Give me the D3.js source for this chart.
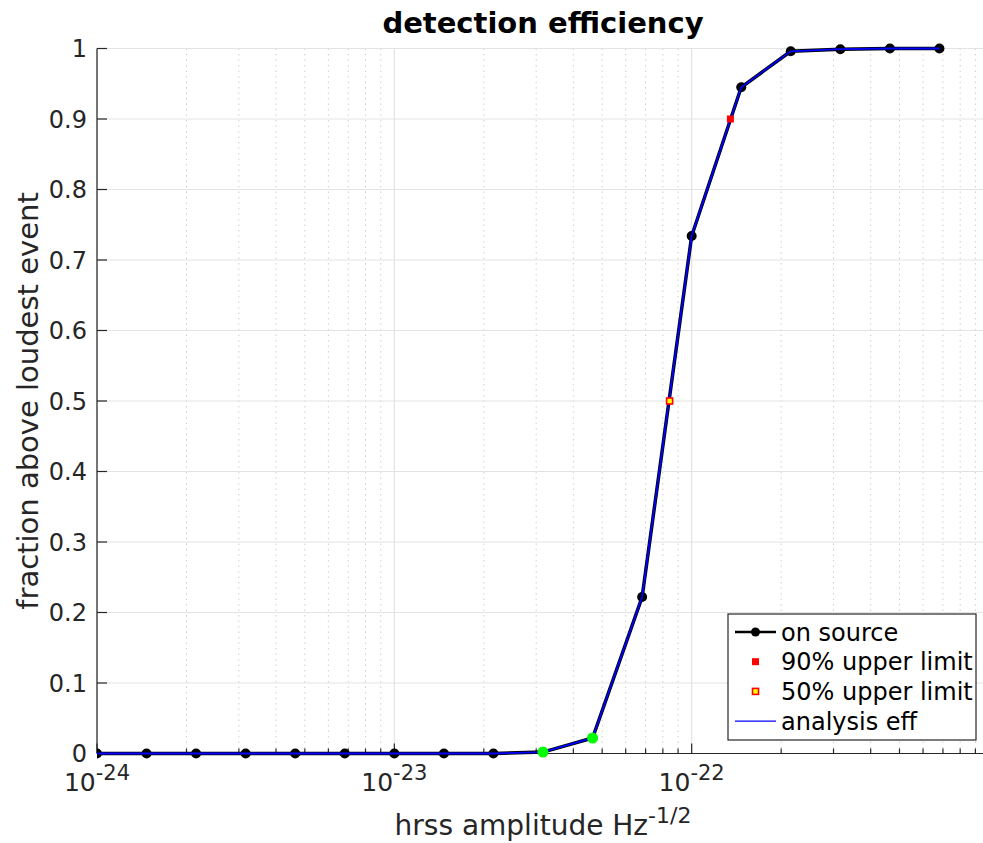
<!DOCTYPE html>
<html>
<head>
<meta charset="utf-8">
<script src="https://cdn.jsdelivr.net/npm/d3@7"></script>
<style>
  html, body { margin: 0; padding: 0; background: #fff; }
  svg { display: block; font-family: "DejaVu Sans", sans-serif; }
</style>
</head>
<body>
<svg id="chart" width="983" height="843"></svg>
<script>
// Injection amplitudes (hrss, Hz^-1/2), spaced 1/6 decade apart
const hrss = [1e-24, 1.468e-24, 2.154e-24, 3.162e-24, 4.642e-24, 6.813e-24,
              1e-23, 1.468e-23, 2.154e-23, 3.162e-23, 4.642e-23, 6.813e-23,
              1e-22, 1.468e-22, 2.154e-22, 3.162e-22, 4.642e-22, 6.813e-22];
// Fraction of injections louder than the loudest on-source event
const efficiency = [0, 0, 0, 0, 0, 0, 0, 0, 0, 0.002, 0.022, 0.222,
                    0.734, 0.945, 0.996, 0.999, 1.0, 1.0];
// Indices of points highlighted in green
const highlighted = [9, 10];
// Upper limits
const upperLimit90 = { x: 1.35e-22, y: 0.9 };
const upperLimit50 = { x: 8.43e-23, y: 0.5 };
const yTicks = [0, 0.1, 0.2, 0.3, 0.4, 0.5, 0.6, 0.7, 0.8, 0.9, 1];
const xDecades = [1e-24, 1e-23, 1e-22];
const legendLabels = ["on source", "90% upper limit", "50% upper limit", "analysis eff"];

const svg = d3.select("#chart");
const mLeft = 97, mRight = 989, mTop = 48.5, mBottom = 753.5;

const x = d3.scaleLog().domain([1e-24, 1e-21]).range([mLeft, mRight]);
const y = d3.scaleLinear().domain([0, 1]).range([mBottom, mTop]);

// minor decades 2..9 x 10^n
const minorTicks = [];
[-24, -23, -22].forEach(e => {
  for (let m = 2; m <= 9; m++) minorTicks.push(m * Math.pow(10, e));
});

svg.append("defs").append("clipPath").attr("id", "plotclip")
  .append("rect").attr("x", mLeft).attr("y", mTop - 8)
  .attr("width", mRight - mLeft).attr("height", mBottom - mTop + 16);

// grid
const grid = svg.append("g");
grid.selectAll(".mgx").data(minorTicks).join("line")
  .attr("x1", d => x(d)).attr("x2", d => x(d))
  .attr("y1", mTop).attr("y2", mBottom)
  .attr("stroke", "#cfcfcf").attr("stroke-width", 1).attr("stroke-dasharray", "1.5,4");
grid.selectAll(".gx").data(xDecades).join("line")
  .attr("x1", d => x(d)).attr("x2", d => x(d))
  .attr("y1", mTop).attr("y2", mBottom)
  .attr("stroke", "#e3e3e3").attr("stroke-width", 1.2);
grid.selectAll(".gy").data(yTicks).join("line")
  .attr("x1", mLeft).attr("x2", mRight)
  .attr("y1", d => y(d)).attr("y2", d => y(d))
  .attr("stroke", "#e3e3e3").attr("stroke-width", 1.2);

// axes
const axisColor = "#262626";
const ax = svg.append("g");
ax.append("line").attr("x1", mLeft).attr("x2", mLeft).attr("y1", mTop).attr("y2", mBottom)
  .attr("stroke", axisColor).attr("stroke-width", 1.2);
ax.append("line").attr("x1", mLeft).attr("x2", mRight).attr("y1", mBottom).attr("y2", mBottom)
  .attr("stroke", axisColor).attr("stroke-width", 1.2);
ax.selectAll(".ty").data(yTicks).join("line")
  .attr("x1", mLeft).attr("x2", mLeft + 10)
  .attr("y1", d => y(d)).attr("y2", d => y(d))
  .attr("stroke", axisColor).attr("stroke-width", 1.2);
ax.selectAll(".txM").data(xDecades).join("line")
  .attr("x1", d => x(d)).attr("x2", d => x(d))
  .attr("y1", mBottom).attr("y2", mBottom - 10)
  .attr("stroke", axisColor).attr("stroke-width", 1.2);
ax.selectAll(".txm").data(minorTicks).join("line")
  .attr("x1", d => x(d)).attr("x2", d => x(d))
  .attr("y1", mBottom).attr("y2", mBottom - 5)
  .attr("stroke", axisColor).attr("stroke-width", 1.2);

// tick labels
ax.selectAll(".yl").data(yTicks).join("text")
  .attr("x", mLeft - 10).attr("y", d => y(d)).attr("dy", "0.36em")
  .attr("text-anchor", "end").attr("font-size", 24).attr("fill", axisColor)
  .text(d => d === 0 || d === 1 ? String(d) : d.toFixed(1));
xDecades.forEach(d => {
  const t = ax.append("text").attr("x", x(d)).attr("y", 791)
    .attr("text-anchor", "middle").attr("font-size", 25).attr("fill", axisColor);
  t.append("tspan").text("10");
  t.append("tspan").attr("dy", -11).attr("font-size", 21).text(String(Math.round(Math.log10(d))));
});

// labels
svg.append("text").attr("x", 543).attr("y", 33).attr("text-anchor", "middle")
  .attr("font-size", 29).attr("font-weight", "bold").attr("fill", "#000")
  .text("detection efficiency");
const xl = svg.append("text").attr("x", 543).attr("y", 835).attr("text-anchor", "middle")
  .attr("font-size", 28).attr("fill", axisColor);
xl.append("tspan").text("hrss amplitude Hz");
xl.append("tspan").attr("dy", -12).attr("font-size", 22).text("-1/2");
svg.append("text").attr("transform", `translate(38,${(mTop + mBottom) / 2}) rotate(-90)`)
  .attr("text-anchor", "middle").attr("font-size", 29).attr("fill", axisColor)
  .text("fraction above loudest event");

// data
const pts = hrss.map((h, i) => ({ x: h, y: efficiency[i], i }));
const line = d3.line().x(d => x(d.x)).y(d => y(d.y));
const plot = svg.append("g").attr("clip-path", "url(#plotclip)");
plot.append("path").datum(pts).attr("d", line)
  .attr("fill", "none").attr("stroke", "#000").attr("stroke-width", 3.5);
plot.selectAll(".dot").data(pts).join("circle")
  .attr("cx", d => x(d.x)).attr("cy", d => y(d.y)).attr("r", 5).attr("fill", "#000");
plot.append("path").datum(pts).attr("d", line)
  .attr("fill", "none").attr("stroke", "#0000ff").attr("stroke-width", 1.8);
plot.selectAll(".gdot").data(highlighted.map(i => pts[i])).join("circle")
  .attr("cx", d => x(d.x)).attr("cy", d => y(d.y)).attr("r", 5.5).attr("fill", "#00ff00");
plot.append("rect").attr("x", x(upperLimit90.x) - 3.5).attr("y", y(upperLimit90.y) - 3.5)
  .attr("width", 7).attr("height", 7).attr("fill", "#ff0000");
plot.append("rect").attr("x", x(upperLimit50.x) - 3).attr("y", y(upperLimit50.y) - 3)
  .attr("width", 6).attr("height", 6).attr("fill", "#ffff00")
  .attr("stroke", "#ff0000").attr("stroke-width", 1.6);

// legend
const lg = svg.append("g");
lg.append("rect").attr("x", 728).attr("y", 614).attr("width", 248).attr("height", 126)
  .attr("fill", "#fff").attr("stroke", axisColor).attr("stroke-width", 1.2);
const rowY = i => 632 + i * 29.7;
legendLabels.forEach((lab, i) => {
  lg.append("text").attr("x", 781).attr("y", rowY(i)).attr("dy", "0.36em")
    .attr("font-size", 24).attr("fill", "#000").text(lab);
});
lg.append("line").attr("x1", 735).attr("x2", 776).attr("y1", rowY(0)).attr("y2", rowY(0))
  .attr("stroke", "#000").attr("stroke-width", 2.5);
lg.append("circle").attr("cx", 755.5).attr("cy", rowY(0)).attr("r", 4.5).attr("fill", "#000");
lg.append("rect").attr("x", 752).attr("y", rowY(1) - 3.5).attr("width", 7).attr("height", 7).attr("fill", "#ff0000");
lg.append("rect").attr("x", 752.5).attr("y", rowY(2) - 3).attr("width", 6).attr("height", 6)
  .attr("fill", "#ffff00").attr("stroke", "#ff0000").attr("stroke-width", 1.6);
lg.append("line").attr("x1", 735).attr("x2", 776).attr("y1", rowY(3)).attr("y2", rowY(3))
  .attr("stroke", "#0000ff").attr("stroke-width", 1.2);
</script>
</body>
</html>
